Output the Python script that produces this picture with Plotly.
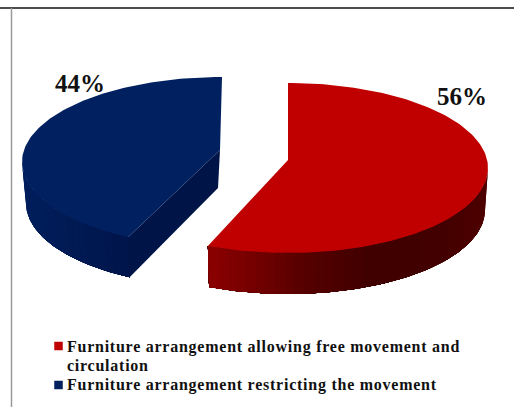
import numpy as np
import plotly.graph_objects as go

categories = ["Furniture arrangement allowing free movement and<br>circulation",
              "Furniture arrangement restricting the movement"]
values = [56, 44]
top_colors = ["#c00000", "#002060"]

W, H = 514, 407
TEXT_FONT = "Liberation Serif"

# ellipse geometry of each exploded slice: centre, radii (top rim and bottom rim), apex
red_top = dict(cx=288, cy=168, a=200, b=85)
red_bot = dict(cx=288, cy=210, a=197, b=84)
red_apex = (288, 160)
blue_top = dict(cx=222, cy=162, a=200, b=85)
blue_bot = dict(cx=221, cy=203, a=195, b=84)
blue_apex = (220, 150)
blue_apex_low = (218, 188)
RED_PERSPECTIVE = 1.01    # the near slice is drawn slightly wider
BLUE_PERSPECTIVE = 0.96   # foreshortening of the rear slice


def rim(e, deg):
    t = np.radians(np.asarray(deg, dtype=float))
    return e["cx"] + e["a"] * np.sin(t), e["cy"] - e["b"] * np.cos(t)


def lerp_color(stops, v):
    xs = [s[0] for s in stops]
    return "rgb({},{},{})".format(*[int(round(np.interp(v, xs, [s[1][i] for s in stops]))) for i in range(3)])


fig = go.Figure()


def poly(x, y, color, name=None, edge=0.0):
    fig.add_trace(go.Scatter(x=list(x), y=list(y), mode="lines", fill="toself", fillcolor=color,
                             line=dict(color=color, width=edge), showlegend=False,
                             hoverinfo="text" if name else "skip", text=name))


def wall(top, bot, start, end, n, stops):
    """Painter's order: every band runs on to the far end, so no seams show between bands."""
    edges = np.linspace(start, end, n + 1)
    for a0 in edges[:-1]:
        t = np.linspace(a0, end, max(2, int(abs(end - a0)) + 2))
        xt, yt = rim(top, t)
        xb, yb = rim(bot, t)
        mid_x = rim(top, a0 + (edges[1] - edges[0]) / 2)[0]
        poly(np.r_[xt, xb[::-1]], np.r_[yt, yb[::-1]], lerp_color(stops, mid_x))


red_end = values[0] / sum(values) * 360 * RED_PERSPECTIVE
blue_start = 360 - (values[1] / sum(values) * 360) * BLUE_PERSPECTIVE

red_stops = [(210, (138, 0, 0)), (250, (118, 0, 0)), (300, (88, 0, 0)), (370, (64, 0, 0)), (440, (66, 0, 0)), (488, (78, 0, 0))]
blue_stops = [(22, (0, 30, 92)), (70, (0, 26, 84)), (130, (0, 20, 74))]

wall(red_top, red_bot, 90, red_end, 40, red_stops)
wall(blue_top, blue_bot, 270, blue_start, 24, blue_stops)

# blue cut face
tx, ty = rim(blue_top, blue_start)
bx, by = rim(blue_bot, blue_start)
poly([blue_apex[0], tx, bx, blue_apex_low[0]], [blue_apex[1], ty, by, blue_apex_low[1]], "#001448")

# top faces
t = np.linspace(0, red_end, 160)
x, y = rim(red_top, t)
poly(np.r_[red_apex[0], x, red_apex[0]], np.r_[red_apex[1], y, red_apex[1]], top_colors[0], categories[0])
t = np.linspace(blue_start, 360, 140)
x, y = rim(blue_top, t)
poly(np.r_[blue_apex[0], x, blue_apex[0]], np.r_[blue_apex[1], y, blue_apex[1]], top_colors[1], categories[1])

# legend swatches
fig.add_trace(go.Scatter(x=[58.5, 58.5], y=[346, 385], mode="markers", showlegend=False, hoverinfo="skip",
                         marker=dict(symbol="square", size=8.5, color=top_colors, line=dict(width=0))))

first_line, second_line = categories[0].split("<br>")
def spaced(s):
    return f'<span style="letter-spacing:0.75px"><b>{s}</b></span>'

ann = [
    dict(x=80, y=83, text=f"<b>{values[1]}%</b>", font=dict(size=25)),
    dict(x=462, y=96, text=f"<b>{values[0]}%</b>", font=dict(size=25)),
    dict(x=65, y=347, xanchor="left", text=spaced(first_line), font=dict(size=16)),
    dict(x=65, y=365, xanchor="left", text=spaced(second_line), font=dict(size=16)),
    dict(x=65, y=385, xanchor="left", text=spaced(categories[1]), font=dict(size=16)),
]
for a in ann:
    a["font"].update(family=TEXT_FONT, color="#111111")
    a.update(xref="x", yref="y", showarrow=False)
    a.setdefault("xanchor", "center")
    a["yanchor"] = "middle"

fig.update_layout(
    width=W, height=H, margin=dict(l=0, r=0, t=0, b=0), paper_bgcolor="white", plot_bgcolor="white",
    xaxis=dict(range=[0, W], visible=False, fixedrange=True),
    yaxis=dict(range=[H, 0], visible=False, fixedrange=True),
    annotations=ann,
    shapes=[
        dict(type="line", xref="x", yref="y", x0=0, x1=W, y0=8, y1=8, line=dict(color="#111111", width=1.6)),
        dict(type="line", xref="x", yref="y", x0=11.5, x1=11.5, y0=8, y1=H, line=dict(color="#9a9a9a", width=1.5)),
    ],
)
fig.write_html("out.html", config={"displayModeBar": False},
               post_script="document.body.style.margin='0';document.documentElement.style.overflow='hidden';")
